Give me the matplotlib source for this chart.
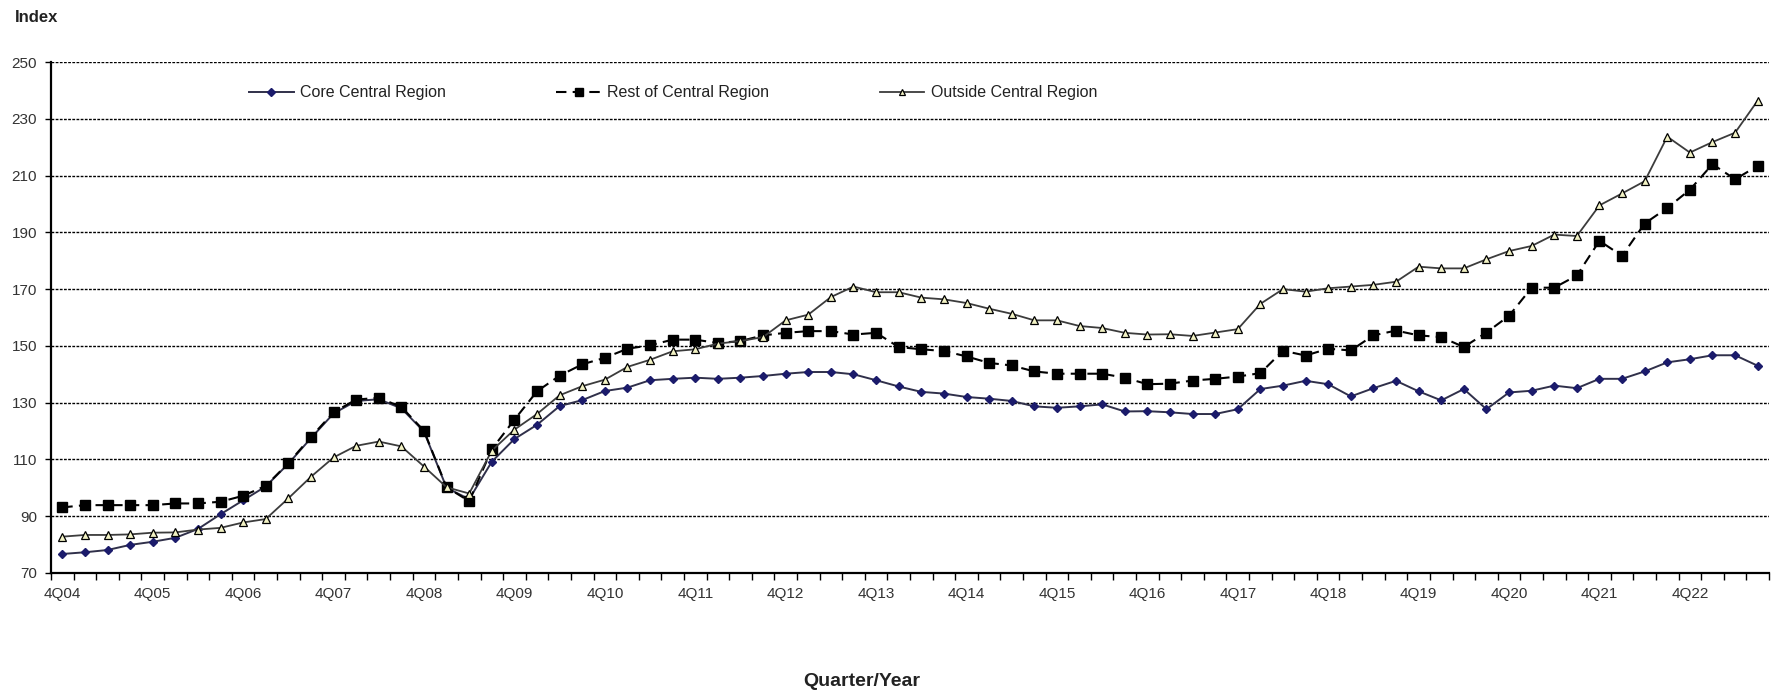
import matplotlib
matplotlib.use('Agg')
import matplotlib.pyplot as plt
import matplotlib.ticker as ticker

# --- Datos (índice, 4Q04 .. 3Q23) ---
core = [76.7, 77.3, 78.1, 79.9, 81.0, 82.4, 85.5, 90.7, 95.6, 100.5,
        108.5, 117.5, 126.2, 130.6, 131.2, 128.0, 119.8, 100.0, 96.0, 109.2,
        117.2, 122.2, 128.8, 130.9, 134.1, 135.3, 137.9, 138.4, 138.8, 138.4,
        138.8, 139.4, 140.2, 140.8, 140.8, 140.0, 137.9, 135.7, 133.8, 133.2,
        132.0, 131.4, 130.6, 128.7, 128.2, 128.7, 129.4, 126.9, 127.0, 126.6,
        126.0, 126.0, 127.7, 134.8, 136.0, 137.7, 136.5, 132.2, 135.1, 137.7,
        134.0, 130.8, 134.8, 127.7, 133.6, 134.2, 136.0, 135.1, 138.4, 138.4,
        141.0, 144.2, 145.3, 146.7, 146.7, 143.0]
rest = [93.1, 93.9, 93.9, 93.9, 93.9, 94.5, 94.5, 95.1, 97.2, 100.7,
        108.7, 117.9, 126.6, 131.1, 131.7, 128.5, 120.1, 100.2, 95.3, 113.6,
        124.0, 134.0, 139.5, 143.5, 145.8, 149.0, 150.2, 152.2, 152.2, 151.0,
        151.7, 153.7, 154.6, 155.2, 155.2, 154.0, 154.6, 149.6, 148.8, 148.2,
        146.3, 144.0, 143.1, 141.0, 140.2, 140.2, 140.2, 138.8, 136.5, 136.7,
        137.8, 138.4, 139.2, 140.4, 148.3, 146.6, 149.0, 148.4, 153.7, 155.4,
        153.7, 153.1, 149.6, 154.7, 160.6, 170.5, 170.5, 174.8, 187.0, 181.7,
        193.1, 198.6, 205.0, 214.0, 208.7, 213.4]
outside = [82.8, 83.4, 83.4, 83.6, 84.2, 84.3, 85.3, 85.9, 87.8, 89.0,
           96.3, 103.9, 110.7, 114.8, 116.3, 114.6, 107.5, 100.2, 98.0, 113.1,
           120.5, 126.0, 132.6, 135.8, 138.1, 142.6, 145.1, 148.1, 148.8, 150.8,
           151.7, 153.1, 159.0, 161.0, 167.2, 170.9, 168.9, 168.9, 167.0, 166.4,
           165.1, 163.1, 161.3, 159.0, 159.0, 157.0, 156.3, 154.6, 154.0, 154.1,
           153.5, 154.7, 155.9, 164.8, 170.0, 169.1, 170.3, 170.9, 171.5, 172.6,
           177.9, 177.3, 177.3, 180.5, 183.4, 185.2, 189.2, 188.7, 199.5, 203.7,
           208.0, 223.7, 218.1, 221.8, 225.1, 236.4]

series_names = ['Core Central Region', 'Rest of Central Region', 'Outside Central Region']
tick_labels = ['4Q04', '4Q05', '4Q06', '4Q07', '4Q08', '4Q09', '4Q10', '4Q11', '4Q12', '4Q13',
               '4Q14', '4Q15', '4Q16', '4Q17', '4Q18', '4Q19', '4Q20', '4Q21', '4Q22']
y_ticks = [70, 90, 110, 130, 150, 170, 190, 210, 230, 250]

x = list(range(len(core)))

plt.rcParams['font.family'] = ['Liberation Sans', 'DejaVu Sans']

W, H = 1773, 694
fig = plt.figure(figsize=(W / 100, H / 100), dpi=100)
ax = fig.add_axes([51 / W, (H - 573) / H, (1769 - 51) / W, (573 - 62) / H])

ax.plot(x, core, color='#30304a', linewidth=1.4, marker='D', markersize=4.5,
        markerfacecolor='#1b1b6b', markeredgecolor='#1b1b6b', label=series_names[0], zorder=3)
ax.plot(x, rest, color='black', linewidth=1.5, dashes=(5, 3), marker='s', markersize=6.5,
        markerfacecolor='black', markeredgecolor='black', label=series_names[1], zorder=4)
ax.plot(x, outside, color='#3c3c3c', linewidth=1.3, marker='^', markersize=6,
        markerfacecolor='#f2f2c4', markeredgecolor='black', markeredgewidth=0.9,
        label=series_names[2], zorder=5)

# ejes
ax.set_xlim(-0.5, len(core) - 0.5)
ax.set_ylim(70, 250)
ax.set_yticks(y_ticks)
ax.yaxis.set_major_formatter(ticker.FormatStrFormatter('%d'))
for v in y_ticks[1:]:
    ax.axhline(v, color='black', linewidth=1.0, linestyle=(0, (2, 1)), zorder=1)

ax.set_xticks([k - 0.5 for k in range(len(core) + 1)])
ax.set_xticklabels([])
ax.set_xticks([4 * i for i in range(len(tick_labels))], minor=True)
ax.set_xticklabels(tick_labels, minor=True)
ax.tick_params(axis='x', which='major', direction='out', length=5, width=1.0, color='black')
ax.tick_params(axis='x', which='minor', length=0, pad=10, labelsize=11, labelcolor='#333333')
ax.tick_params(axis='y', direction='out', length=4, width=1.0, pad=6, labelsize=11,
               labelcolor='#333333')

for side in ['top', 'right']:
    ax.spines[side].set_visible(False)
ax.spines['left'].set_linewidth(1.6)
ax.spines['bottom'].set_linewidth(1.6)

leg = ax.legend(loc='center left', bbox_to_anchor=(249 / W, 1 - 93 / H),
                bbox_transform=fig.transFigure, ncol=3, frameon=False, fontsize=11.5,
                handlelength=2.8, handletextpad=0.4, columnspacing=6.9,
                borderpad=0, borderaxespad=0, markerscale=0.8)
for t in leg.get_texts():
    t.set_color('#222222')

fig.text(15 / W, 1 - 18 / H, 'Index', ha='left', va='center', fontsize=12,
         fontweight='bold', color='#222222')
fig.text(862 / W, 1 - 682 / H, 'Quarter/Year', ha='center', va='center', fontsize=14,
         fontweight='bold', color='#222222')

fig.savefig('out.png', dpi=100)
